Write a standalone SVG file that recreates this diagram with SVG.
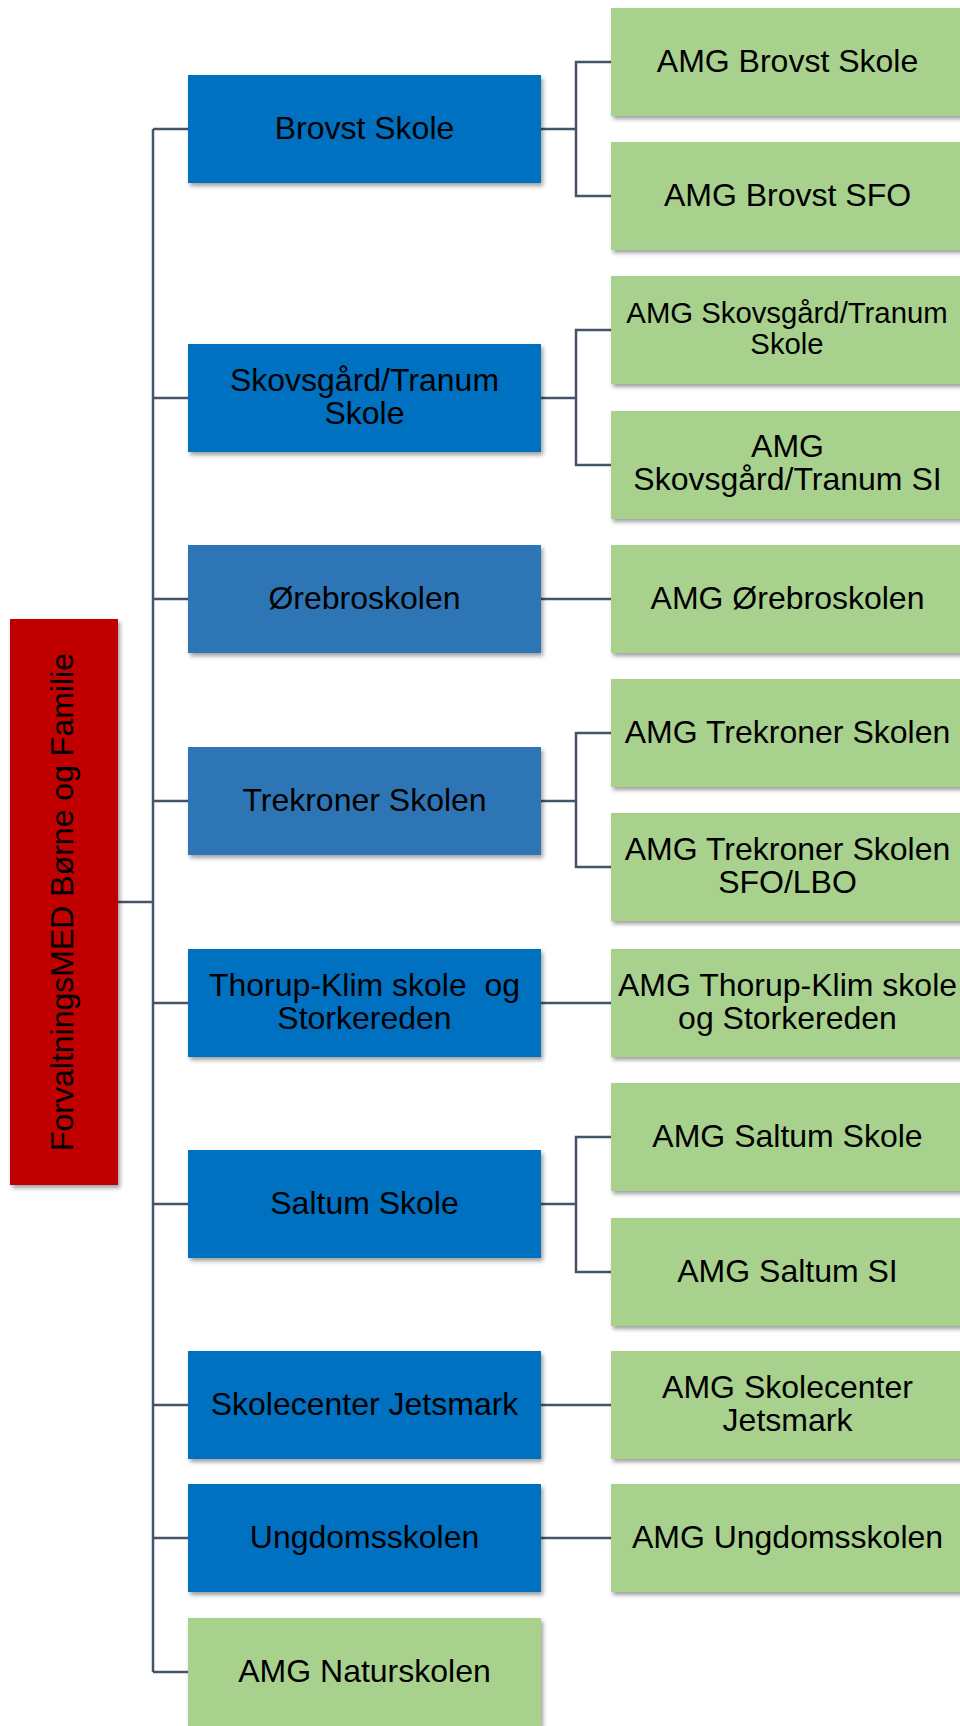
<svg xmlns="http://www.w3.org/2000/svg" width="960" height="1726" viewBox="0 0 960 1726">
<defs>
<filter id="sh" x="-10%" y="-10%" width="125%" height="135%">
<feDropShadow dx="2" dy="3" stdDeviation="2.2" flood-color="#000" flood-opacity="0.38"/>
</filter>
</defs>
<style>
text{font-family:"Liberation Sans",Arial,sans-serif;font-size:32px;fill:#000;text-anchor:middle;white-space:pre}
text.s{font-size:29.3px}
.b{fill:#0070C0;filter:url(#sh)}
.lb{fill:#2E75B6;filter:url(#sh)}
.g{fill:#A9D18E;filter:url(#sh)}
.r{fill:#C00000;filter:url(#sh)}
.c path{fill:none;stroke:#44546A;stroke-width:2.5}
</style>
<rect width="960" height="1726" fill="#fff"/>
<g class="c" id="connectors">
<path d="M118 902H153"/>
<path d="M153 129V1672"/>
<path d="M153 129H188M153 398H188M153 599H188M153 801H188M153 1003H188M153 1204H188M153 1405H188M153 1538H188M153 1672H188"/>
<path d="M541 129H576M611 62H576V196H611"/>
<path d="M541 398H576M611 330H576V465H611"/>
<path d="M541 599H611"/>
<path d="M541 801H576M611 733H576V867H611"/>
<path d="M541 1003H611"/>
<path d="M541 1204H576M611 1137H576V1272H611"/>
<path d="M541 1405H611"/>
<path d="M541 1538H611"/>
</g>
<g id="root"><rect class="r" x="10" y="619" width="108" height="566"/><text transform="translate(73 902) rotate(-90)">ForvaltningsMED Børne og Familie</text></g>
<g id="brovst"><rect class="b" x="188" y="75" width="353" height="108"/><text x="364.5" y="139">Brovst Skole</text></g>
<g id="skovsgaard"><rect class="b" x="188" y="344" width="353" height="108"/><text x="364.5" y="391">Skovsgård/Tranum</text><text x="364.5" y="424">Skole</text></g>
<g id="orebro"><rect class="lb" x="188" y="545" width="353" height="108"/><text x="364.5" y="609">Ørebroskolen</text></g>
<g id="trekroner"><rect class="lb" x="188" y="747" width="353" height="108"/><text x="364.5" y="811">Trekroner Skolen</text></g>
<g id="thorup"><rect class="b" x="188" y="949" width="353" height="108"/><text x="364.5" y="996">Thorup-Klim skole  og</text><text x="364.5" y="1029">Storkereden</text></g>
<g id="saltum"><rect class="b" x="188" y="1150" width="353" height="108"/><text x="364.5" y="1214">Saltum Skole</text></g>
<g id="jetsmark"><rect class="b" x="188" y="1351" width="353" height="108"/><text x="364.5" y="1415">Skolecenter Jetsmark</text></g>
<g id="ungdom"><rect class="b" x="188" y="1484" width="353" height="108"/><text x="364.5" y="1548">Ungdomsskolen</text></g>
<g id="natur"><rect class="g" x="188" y="1618" width="353" height="108"/><text x="364.5" y="1682">AMG Naturskolen</text></g>
<g id="amg-brovst-skole"><rect class="g" x="611" y="8" width="353" height="108"/><text x="787.5" y="72">AMG Brovst Skole</text></g>
<g id="amg-brovst-sfo"><rect class="g" x="611" y="142" width="353" height="108"/><text x="787.5" y="206">AMG Brovst SFO</text></g>
<g id="amg-skovsgaard-skole"><rect class="g" x="611" y="276" width="353" height="108"/><text class="s" x="787" y="322.5">AMG Skovsgård/Tranum</text><text class="s" x="787" y="354">Skole</text></g>
<g id="amg-skovsgaard-si"><rect class="g" x="611" y="411" width="353" height="108"/><text x="787.5" y="457">AMG</text><text x="787.5" y="490">Skovsgård/Tranum SI</text></g>
<g id="amg-orebro"><rect class="g" x="611" y="545" width="353" height="108"/><text x="787.5" y="609">AMG Ørebroskolen</text></g>
<g id="amg-trekroner"><rect class="g" x="611" y="679" width="353" height="108"/><text x="787.5" y="743">AMG Trekroner Skolen</text></g>
<g id="amg-trekroner-sfo"><rect class="g" x="611" y="813" width="353" height="108"/><text x="787.5" y="860">AMG Trekroner Skolen</text><text x="787.5" y="893">SFO/LBO</text></g>
<g id="amg-thorup"><rect class="g" x="611" y="949" width="353" height="108"/><text x="787.5" y="996">AMG Thorup-Klim skole</text><text x="787.5" y="1029">og Storkereden</text></g>
<g id="amg-saltum-skole"><rect class="g" x="611" y="1083" width="353" height="108"/><text x="787.5" y="1147">AMG Saltum Skole</text></g>
<g id="amg-saltum-si"><rect class="g" x="611" y="1218" width="353" height="108"/><text x="787.5" y="1282">AMG Saltum SI</text></g>
<g id="amg-jetsmark"><rect class="g" x="611" y="1351" width="353" height="108"/><text x="787.5" y="1398">AMG Skolecenter</text><text x="787.5" y="1431">Jetsmark</text></g>
<g id="amg-ungdom"><rect class="g" x="611" y="1484" width="353" height="108"/><text x="787.5" y="1548">AMG Ungdomsskolen</text></g>
</svg>
